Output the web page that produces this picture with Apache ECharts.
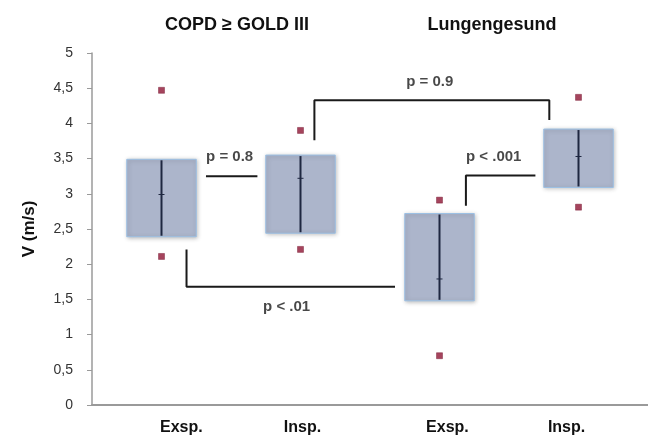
<!DOCTYPE html>
<html>
<head>
<meta charset="utf-8">
<script src="https://cdn.jsdelivr.net/npm/echarts@6/dist/echarts.min.js"></script>
<style>html,body{margin:0;padding:0;background:#fff;}#c{width:648px;height:448px;}</style>
</head>
<body>
<div id="c"></div>
<script>
// ---- data ----
const categories = ["Exsp.", "Insp.", "Exsp.", "Insp."];
const groupTitles = ["COPD \u2265 GOLD III", "Lungengesund"];
const boxTop    = [3.49, 3.55, 2.72, 3.92];
const boxBottom = [2.39, 2.44, 1.48, 3.09];
const means     = [2.99, 3.22, 1.79, 3.53];
const outlierHigh = [4.47, 3.90, 2.91, 4.37];
const outlierLow  = [2.11, 2.21, 0.70, 2.81];
// significance brackets (data coordinates)
const bracket08  = [[1.32, 3.25], [1.69, 3.25]];
const bracket09  = [[2.10, 3.76], [2.10, 4.33], [3.79, 4.33], [3.79, 4.05]];
const bracket001 = [[3.19, 2.83], [3.19, 3.26], [3.69, 3.26]];
const bracket01  = [[1.18, 2.21], [1.18, 1.68], [2.68, 1.68]];
const pLabels = ["p = 0.8", "p = 0.9", "p < .001", "p < .01"];
const pLabelPos = [[1.49, 3.53], [2.93, 4.59], [3.39, 3.53], [1.90, 1.40]];
// x label anchor positions (layout)
const xLabelPos = [1.143, 2.014, 3.057, 3.914];

const FONT = "Liberation Sans, Arial, sans-serif";
const chart = echarts.init(document.getElementById('c'));

const boxData = categories.map((c, i) => [i + 1, boxBottom[i], boxTop[i], means[i]]);
const outData = [];
categories.forEach((c, i) => { outData.push([i + 1, outlierHigh[i]]); outData.push([i + 1, outlierLow[i]]); });

function bracketSeries(d) {
  return {
    type: 'line', data: d, symbol: 'none', silent: true,
    lineStyle: { color: '#1a1a1a', width: 2 }, z: 3
  };
}

chart.setOption({
  animation: false,
  backgroundColor: '#fff',
  title: [
    { text: groupTitles[0], left: 232, top: 11, textAlign: 'center',
      textStyle: { fontFamily: FONT, fontSize: 18, fontWeight: 'bold', color: '#111' } },
    { text: groupTitles[1], left: 487, top: 11, textAlign: 'center',
      textStyle: { fontFamily: FONT, fontSize: 18, fontWeight: 'bold', color: '#111' } }
  ],
  grid: { left: 92, top: 53, width: 560, bottom: 43 },
  xAxis: {
    type: 'value', min: 0.5, max: 4.5,
    axisLine: { show: true, lineStyle: { color: '#9a9a9a', width: 2 } },
    axisTick: { show: false },
    splitLine: { show: false },
    axisLabel: {
      customValues: xLabelPos,
      margin: 15,
      fontFamily: FONT, fontSize: 16, fontWeight: 'bold', color: '#111',
      formatter: function (v) {
        let best = 0, bd = 1e9;
        xLabelPos.forEach((p, i) => { const d = Math.abs(p - v); if (d < bd) { bd = d; best = i; } });
        return categories[best];
      }
    }
  },
  yAxis: {
    type: 'value', min: 0, max: 5, interval: 0.5,
    name: 'V (m/s)', nameLocation: 'middle', nameRotate: 90, nameGap: 54,
    nameTextStyle: { fontFamily: FONT, fontSize: 17, fontWeight: 'bold', color: '#111' },
    axisLine: { show: true, lineStyle: { color: '#9a9a9a', width: 1.5 } },
    axisTick: { show: true, inside: false, length: 5, lineStyle: { color: '#9a9a9a' } },
    splitLine: { show: false },
    axisLabel: {
      margin: 19, fontFamily: FONT, fontSize: 14, color: '#333',
      formatter: v => String(v).replace('.', ',')
    }
  },
  series: [
    {
      type: 'custom', data: boxData, z: 2,
      renderItem: function (params, api) {
        const x = api.value(0);
        const pLo = api.coord([x - 0.25, api.value(1)]);
        const pHi = api.coord([x + 0.25, api.value(2)]);
        const cx = api.coord([x, api.value(3)]);
        const top = pHi[1], bot = pLo[1];
        return {
          type: 'group',
          children: [
            { type: 'rect',
              shape: { x: pLo[0], y: top, width: pHi[0] - pLo[0], height: bot - top },
              style: { fill: '#acb5cb', stroke: '#9cc0e4', lineWidth: 1,
                       shadowBlur: 4, shadowColor: 'rgba(0,0,0,0.25)', shadowOffsetX: 1, shadowOffsetY: 1 } },
            { type: 'line', shape: { x1: cx[0], y1: top + 1, x2: cx[0], y2: bot - 1 },
              style: { stroke: '#1e2740', lineWidth: 2 } },
            { type: 'line', shape: { x1: cx[0] - 3, y1: cx[1], x2: cx[0] + 3, y2: cx[1] },
              style: { stroke: '#1e2740', lineWidth: 1 } }
          ]
        };
      }
    },
    {
      type: 'scatter', data: outData, symbol: 'rect', symbolSize: 6, z: 4,
      itemStyle: { color: '#8e1535', borderColor: '#6e0c25', borderWidth: 0.5 }
    },
    bracketSeries(bracket08),
    bracketSeries(bracket09),
    bracketSeries(bracket001),
    bracketSeries(bracket01),
    {
      type: 'scatter', symbolSize: 0, z: 5, silent: true,
      data: pLabelPos.map((p, i) => ({ value: p, name: pLabels[i] })),
      label: {
        show: true, position: 'inside', formatter: '{b}',
        fontFamily: FONT, fontSize: 15, fontWeight: 'bold', color: '#1a1a1a'
      }
    }
  ]
});
</script>
</body>
</html>
